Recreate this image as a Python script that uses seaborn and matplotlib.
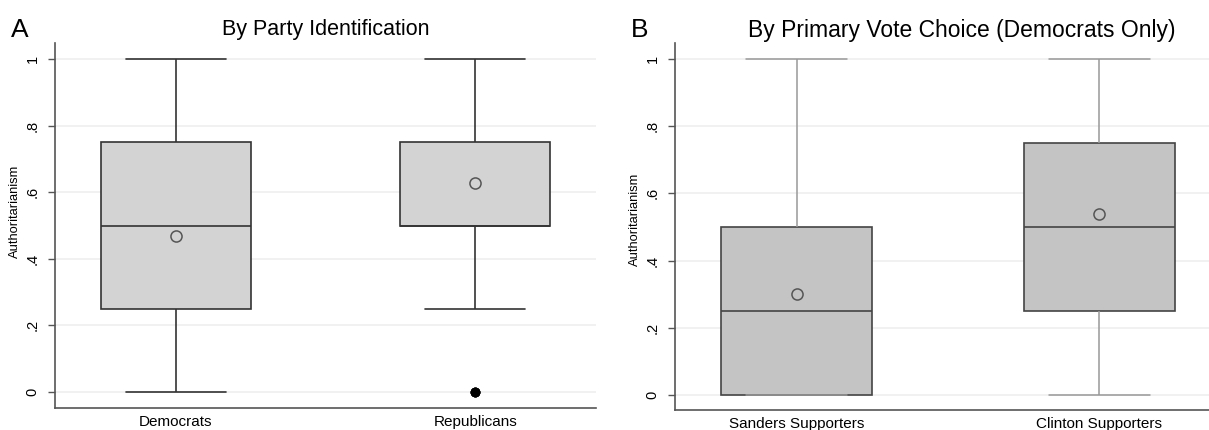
import numpy as np
import pandas as pd
import matplotlib
matplotlib.use("Agg")
import matplotlib.pyplot as plt
import seaborn as sns

# Authoritarianism scale levels and respondent counts per level (read from box stats)
levels = [0.0, 0.25, 0.5, 0.75, 1.0]

party_groups = ["Democrats", "Republicans"]
dem_counts = [16, 25, 27, 20, 12]
rep_counts = [4, 9, 38, 30, 19]

vote_groups = ["Sanders Supporters", "Clinton Supporters"]
sanders_counts = [30, 36, 22, 8, 4]
clinton_counts = [10, 21, 30, 22, 17]

ytick_vals = [0, 0.2, 0.4, 0.6, 0.8, 1.0]
ytick_labels = ["0", ".2", ".4", ".6", ".8", "1"]

title_a = "By Party Identification"
title_b = "By Primary Vote Choice (Democrats Only)"
ylabel = "Authoritarianism"


def make_df(groups, counts_list):
    frames = []
    for g, c in zip(groups, counts_list):
        frames.append(pd.DataFrame({"group": g, "value": np.repeat(levels, c)}))
    return pd.concat(frames, ignore_index=True)


df_a = make_df(party_groups, [dem_counts, rep_counts])
df_b = make_df(vote_groups, [sanders_counts, clinton_counts])

sns.set_style("white")
plt.rcParams["font.family"] = ["Liberation Sans", "DejaVu Sans"]
plt.rcParams["text.color"] = "black"
plt.rcParams["axes.labelcolor"] = "black"
plt.rcParams["xtick.color"] = "black"
plt.rcParams["ytick.color"] = "black"

W, H = 1209, 430
fig = plt.figure(figsize=(W / 100, H / 100), dpi=100)
ax_a = fig.add_axes([55 / W, 22 / H, 541 / W, 365 / H])
ax_b = fig.add_axes([675 / W, 20 / H, 546 / W, 367 / H])

mean_kws = dict(marker="o", markerfacecolor="none", markeredgecolor="#555555",
                markersize=8, markeredgewidth=1.1)
flier_kws = dict(marker="o", markerfacecolor="black", markeredgecolor="black",
                 markersize=6)

sns.boxplot(data=df_a, x="group", y="value", order=party_groups, ax=ax_a,
            width=0.5, color="#d3d3d3", saturation=1, linecolor="#333333",
            linewidth=1.2, whis=1.5, showmeans=True, meanprops=mean_kws,
            flierprops=flier_kws)

sns.boxplot(data=df_b, x="group", y="value", order=vote_groups, ax=ax_b,
            width=0.5, color="#c4c4c4", saturation=1, linecolor="#444444",
            linewidth=1.2, whis=1.5, showmeans=True, meanprops=mean_kws,
            flierprops=flier_kws,
            whiskerprops=dict(color="#999999", linewidth=1.1),
            capprops=dict(color="#999999", linewidth=1.1))

# widen whisker caps to two-thirds of the box width (style only)
for ax in (ax_a, ax_b):
    for ln in ax.lines:
        xd = np.asarray(ln.get_xdata(), dtype=float)
        yd = np.asarray(ln.get_ydata(), dtype=float)
        if len(xd) == 2 and yd[0] == yd[1]:
            span = abs(xd[1] - xd[0])
            if 0.2 < span < 0.3:
                c = xd.mean()
                ln.set_xdata([c - 1 / 6, c + 1 / 6])

for ax, ylim in ((ax_a, (-0.048, 1.048)), (ax_b, (-0.045, 1.048))):
    ax.set_xlim(-0.403, 1.403)
    ax.set_ylim(*ylim)
    ax.set_yticks(ytick_vals)
    ax.set_yticklabels(ytick_labels, rotation=90, va="center", fontsize=10.5)
    ax.tick_params(axis="y", length=5, width=1, color="#555555", pad=6, left=True)
    ax.tick_params(axis="x", length=0, pad=5, labelsize=11)
    ax.set_xlabel("")
    ax.set_ylabel(ylabel, fontsize=9.3)
    ax.yaxis.set_label_coords(-0.062, 0.54)
    ax.yaxis.grid(True, color="#efefef", linewidth=1.2)
    ax.xaxis.grid(False)
    ax.set_axisbelow(True)
    for s in ("top", "right"):
        ax.spines[s].set_visible(False)
    for s in ("left", "bottom"):
        ax.spines[s].set_color("#555555")
        ax.spines[s].set_linewidth(1.2)

ax_b.yaxis.set_label_coords(-0.062 * 541 / 546, 0.52)

fig.text(326 / W, 1 - 30 / H, title_a, ha="center", va="center", fontsize=15.5)
fig.text(962 / W, 1 - 30 / H, title_b, ha="center", va="center", fontsize=16.5)
fig.text(11 / W, 1 - 30 / H, "A", ha="left", va="center", fontsize=19)
fig.text(631 / W, 1 - 30 / H, "B", ha="left", va="center", fontsize=19)

fig.savefig("out.png", dpi=100)
